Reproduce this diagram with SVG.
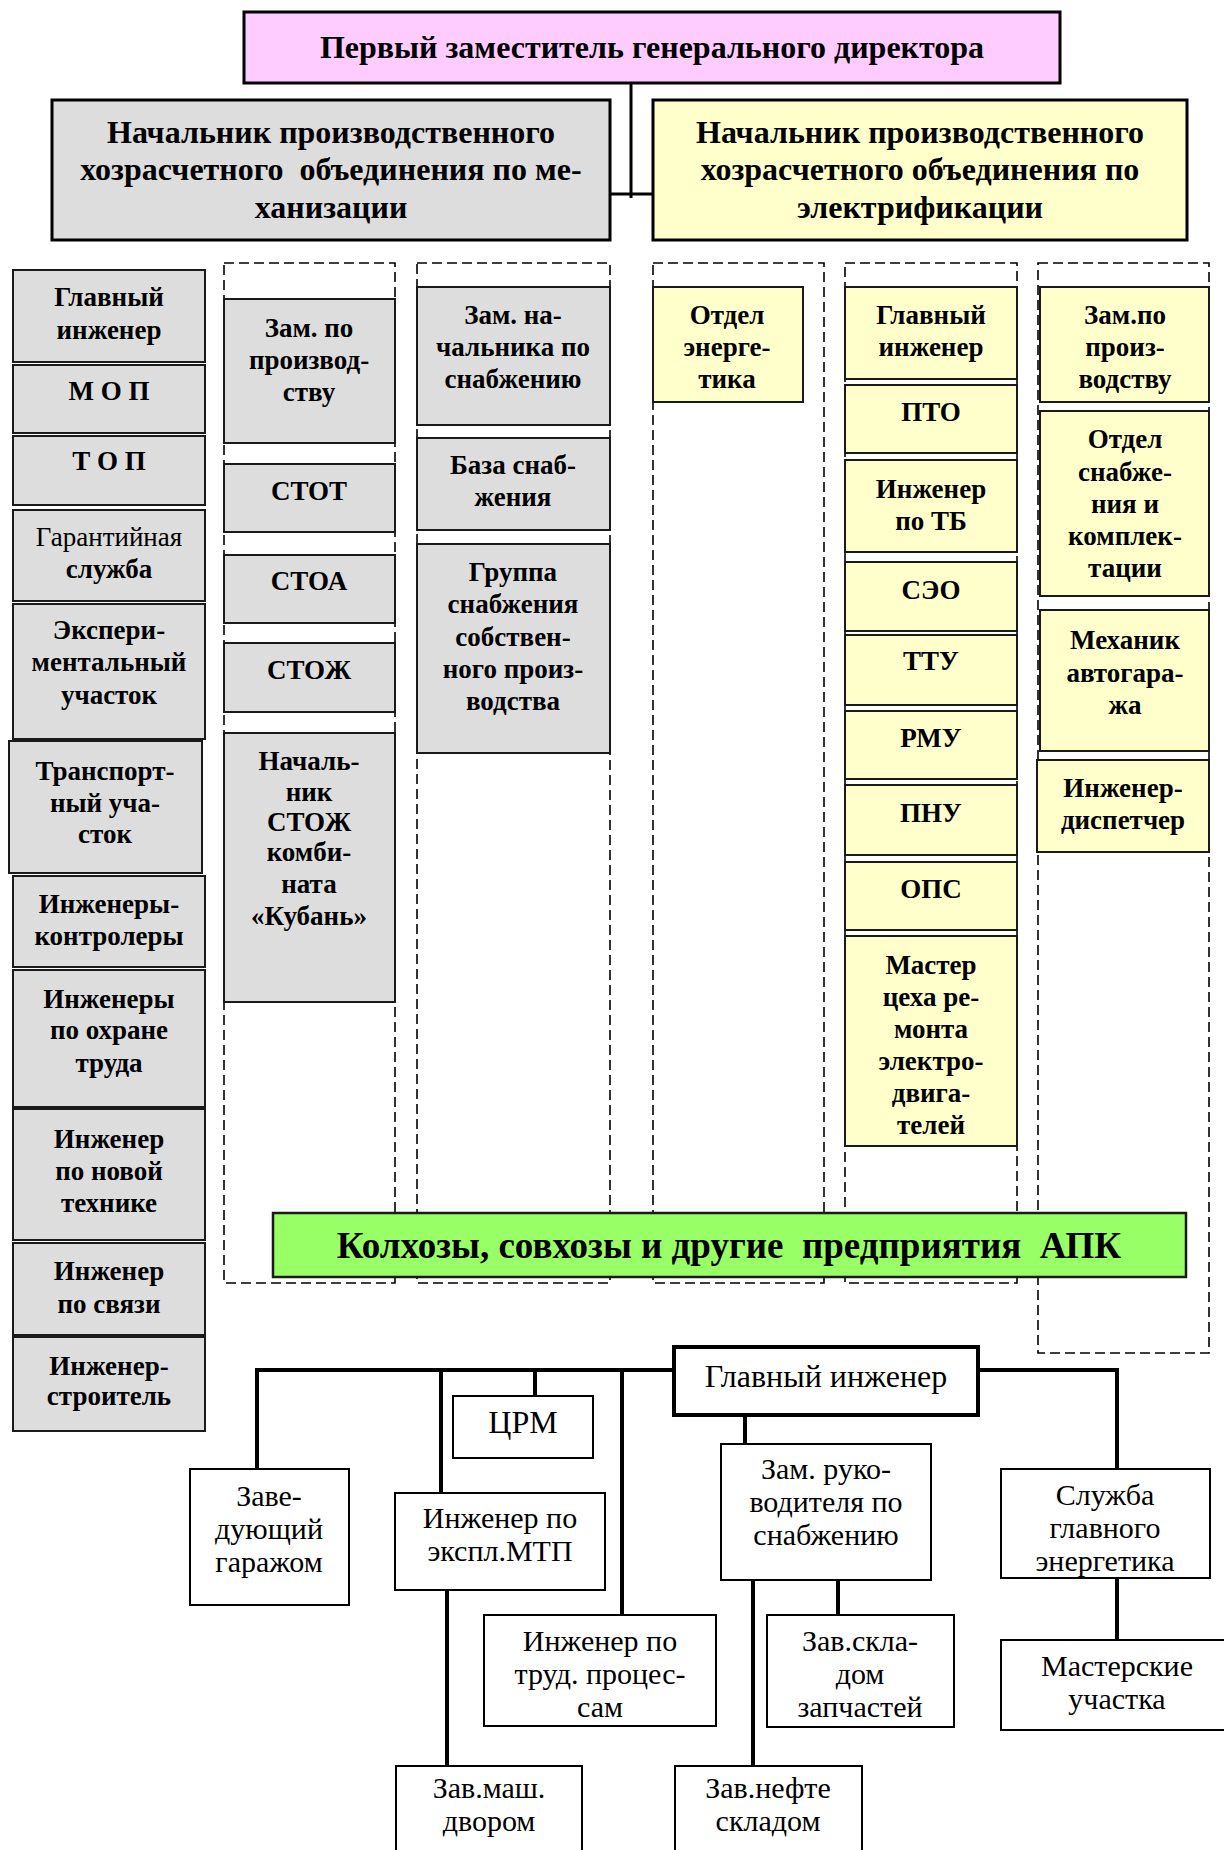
<svg xmlns="http://www.w3.org/2000/svg" width="1224" height="1850" viewBox="0 0 1224 1850">
  <style>
    .bg { fill: #ffffff; }
    .head { stroke: #000; stroke-width: 3; }
    .pink { fill: #ffccff; }
    .gray { fill: #dddddd; stroke: #1a1a1a; stroke-width: 2; }
    .yel { fill: #ffffcc; stroke: #1a1a1a; stroke-width: 2; }
    .green { fill: #99ff66; stroke: #1a1a1a; stroke-width: 2.5; }
    .wbox { fill: #ffffff; stroke: #000; stroke-width: 2; }
    .wbold { fill: #ffffff; stroke: #000; stroke-width: 4; }
    .dash { fill: none; stroke: #000; stroke-width: 1.6; stroke-dasharray: 10 5; }
    .line { fill: none; stroke: #000; stroke-width: 4; }
    .line3 { fill: none; stroke: #000; stroke-width: 3; }
    text { font-family: "Liberation Serif", "Times New Roman", serif; text-anchor: middle; fill: #000; white-space: pre; }
    .b { font-weight: bold; font-size: 27px; }
    .h { font-weight: bold; font-size: 32px; }
    .big { font-weight: bold; font-size: 37px; }
    .r { font-weight: normal; font-size: 30px; }
    .rs { font-weight: normal; font-size: 27px; }
  </style>

  <rect class="bg" x="0" y="0" width="1224" height="1850"/>

  <!-- dashed containers of the sub-divisions -->
  <g id="containers">
    <rect class="dash" x="224" y="263" width="171" height="1020"/>
    <rect class="dash" x="417" y="263" width="193" height="1020"/>
    <rect class="dash" x="653" y="263" width="171" height="1020"/>
    <rect class="dash" x="845" y="263" width="172" height="1020"/>
    <rect class="dash" x="1038" y="263" width="171" height="1090"/>
  </g>

  <!-- connectors -->
  <g id="connectors">
    <polyline class="line3" points="631,83 631,198"/>
    <polyline class="line3" points="610,194 653,194"/>
    <polyline class="line" points="257,1469 257,1370 674,1370"/>
    <polyline class="line" points="441,1370 441,1493"/>
    <polyline class="line" points="535,1370 535,1396"/>
    <polyline class="line" points="622,1370 622,1615"/>
    <polyline class="line" points="978,1370 1117,1370 1117,1469"/>
    <polyline class="line" points="745,1415 745,1444"/>
    <polyline class="line" points="753,1580 753,1766"/>
    <polyline class="line" points="838,1580 838,1615"/>
    <polyline class="line" points="1117,1578 1117,1640"/>
    <polyline class="line" points="447,1590 447,1766"/>
  </g>

  <!-- top level -->
  <g id="first-deputy">
    <rect class="pink head" x="244" y="12" width="816" height="71"/>
    <text class="h" x="652" y="58">Первый заместитель генерального директора</text>
  </g>
  <g id="head-mechanization">
    <rect class="head" fill="#dddddd" x="52" y="100" width="558" height="140"/>
    <text class="h" x="331" y="143">Начальник производственного</text>
    <text class="h" x="331" y="180" xml:space="preserve">хозрасчетного  объединения по ме-</text>
    <text class="h" x="331" y="218">ханизации</text>
  </g>
  <g id="head-electrification">
    <rect class="head" fill="#ffffcc" x="653" y="100" width="534" height="140"/>
    <text class="h" x="920" y="143">Начальник производственного</text>
    <text class="h" x="920" y="180">хозрасчетного объединения по</text>
    <text class="h" x="920" y="218">электрификации</text>
  </g>

  <!-- left column: services of the mechanization association -->
  <g id="m-chief-engineer">
    <rect class="gray" x="13" y="270" width="192" height="92"/>
    <text class="b" x="109" y="306">Главный</text>
    <text class="b" x="109" y="339">инженер</text>
  </g>
  <g id="m-mop">
    <rect class="gray" x="13" y="365" width="192" height="68"/>
    <text class="b" x="109" y="400">М О П</text>
  </g>
  <g id="m-top">
    <rect class="gray" x="13" y="436" width="192" height="69"/>
    <text class="b" x="109" y="470">Т О П</text>
  </g>
  <g id="m-warranty">
    <rect class="gray" x="13" y="510" width="192" height="91"/>
    <text class="rs" x="109" y="546">Гарантийная</text>
    <text class="b" x="109" y="578">служба</text>
  </g>
  <g id="m-experimental">
    <rect class="gray" x="13" y="604" width="192" height="135"/>
    <text class="b" x="109" y="639">Экспери-</text>
    <text class="b" x="109" y="671">ментальный</text>
    <text class="b" x="109" y="704">участок</text>
  </g>
  <g id="m-transport">
    <rect class="gray" x="9" y="741" width="193" height="132"/>
    <text class="b" x="105" y="780">Транспорт-</text>
    <text class="b" x="105" y="812">ный уча-</text>
    <text class="b" x="105" y="843">сток</text>
  </g>
  <g id="m-controllers">
    <rect class="gray" x="13" y="876" width="192" height="91"/>
    <text class="b" x="109" y="913">Инженеры-</text>
    <text class="b" x="109" y="945">контролеры</text>
  </g>
  <g id="m-safety">
    <rect class="gray" x="13" y="970" width="192" height="137"/>
    <text class="b" x="109" y="1008">Инженеры</text>
    <text class="b" x="109" y="1039">по охране</text>
    <text class="b" x="109" y="1072">труда</text>
  </g>
  <g id="m-new-tech">
    <rect class="gray" x="13" y="1109" width="192" height="131"/>
    <text class="b" x="109" y="1148">Инженер</text>
    <text class="b" x="109" y="1180">по новой</text>
    <text class="b" x="109" y="1212">технике</text>
  </g>
  <g id="m-comms">
    <rect class="gray" x="13" y="1243" width="192" height="92"/>
    <text class="b" x="109" y="1280">Инженер</text>
    <text class="b" x="109" y="1313">по связи</text>
  </g>
  <g id="m-builder">
    <rect class="gray" x="13" y="1337" width="192" height="94"/>
    <text class="b" x="109" y="1375">Инженер-</text>
    <text class="b" x="109" y="1405">строитель</text>
  </g>

  <!-- column B -->
  <g id="m-deputy-prod">
    <rect class="gray" x="224" y="299" width="171" height="144"/>
    <text class="b" x="309" y="337">Зам. по</text>
    <text class="b" x="309" y="369">производ-</text>
    <text class="b" x="309" y="401">ству</text>
  </g>
  <g id="m-stot">
    <rect class="gray" x="224" y="464" width="171" height="68"/>
    <text class="b" x="309" y="500">СТОТ</text>
  </g>
  <g id="m-stoa">
    <rect class="gray" x="224" y="555" width="171" height="68"/>
    <text class="b" x="309" y="590">СТОА</text>
  </g>
  <g id="m-stozh">
    <rect class="gray" x="224" y="643" width="171" height="69"/>
    <text class="b" x="309" y="679">СТОЖ</text>
  </g>
  <g id="m-kuban">
    <rect class="gray" x="224" y="733" width="171" height="269"/>
    <text class="b" x="309" y="770">Началь-</text>
    <text class="b" x="309" y="801">ник</text>
    <text class="b" x="309" y="831">СТОЖ</text>
    <text class="b" x="309" y="861">комби-</text>
    <text class="b" x="309" y="893">ната</text>
    <text class="b" x="309" y="925">«Кубань»</text>
  </g>

  <!-- column C -->
  <g id="m-deputy-supply">
    <rect class="gray" x="417" y="287" width="193" height="138"/>
    <text class="b" x="513" y="324">Зам. на-</text>
    <text class="b" x="513" y="356">чальника по</text>
    <text class="b" x="513" y="388">снабжению</text>
  </g>
  <g id="m-supply-base">
    <rect class="gray" x="417" y="438" width="193" height="92"/>
    <text class="b" x="513" y="474">База снаб-</text>
    <text class="b" x="513" y="506">жения</text>
  </g>
  <g id="m-own-supply">
    <rect class="gray" x="417" y="544" width="193" height="209"/>
    <text class="b" x="513" y="581">Группа</text>
    <text class="b" x="513" y="613">снабжения</text>
    <text class="b" x="513" y="646">собствен-</text>
    <text class="b" x="513" y="678">ного произ-</text>
    <text class="b" x="513" y="710">водства</text>
  </g>

  <!-- column D -->
  <g id="e-energy-dept">
    <rect class="yel" x="653" y="287" width="150" height="115"/>
    <text class="b" x="727" y="324">Отдел</text>
    <text class="b" x="727" y="356">энерге-</text>
    <text class="b" x="727" y="388">тика</text>
  </g>

  <!-- column E -->
  <g id="e-chief-engineer">
    <rect class="yel" x="845" y="287" width="172" height="92"/>
    <text class="b" x="931" y="324">Главный</text>
    <text class="b" x="931" y="356">инженер</text>
  </g>
  <g id="e-pto">
    <rect class="yel" x="845" y="385" width="172" height="68"/>
    <text class="b" x="931" y="421">ПТО</text>
  </g>
  <g id="e-safety">
    <rect class="yel" x="845" y="460" width="172" height="92"/>
    <text class="b" x="931" y="498">Инженер</text>
    <text class="b" x="931" y="530">по ТБ</text>
  </g>
  <g id="e-seo">
    <rect class="yel" x="845" y="562" width="172" height="69"/>
    <text class="b" x="931" y="599">СЭО</text>
  </g>
  <g id="e-ttu">
    <rect class="yel" x="845" y="635" width="172" height="70"/>
    <text class="b" x="931" y="670">ТТУ</text>
  </g>
  <g id="e-rmu">
    <rect class="yel" x="845" y="711" width="172" height="68"/>
    <text class="b" x="931" y="747">РМУ</text>
  </g>
  <g id="e-pnu">
    <rect class="yel" x="845" y="785" width="172" height="70"/>
    <text class="b" x="931" y="822">ПНУ</text>
  </g>
  <g id="e-ops">
    <rect class="yel" x="845" y="862" width="172" height="68"/>
    <text class="b" x="931" y="898">ОПС</text>
  </g>
  <g id="e-motor-repair">
    <rect class="yel" x="845" y="936" width="172" height="210"/>
    <text class="b" x="931" y="974">Мастер</text>
    <text class="b" x="931" y="1006">цеха ре-</text>
    <text class="b" x="931" y="1038">монта</text>
    <text class="b" x="931" y="1070">электро-</text>
    <text class="b" x="931" y="1102">двига-</text>
    <text class="b" x="931" y="1134">телей</text>
  </g>

  <!-- column F -->
  <g id="e-deputy-prod">
    <rect class="yel" x="1040" y="287" width="169" height="115"/>
    <text class="b" x="1125" y="324">Зам.по</text>
    <text class="b" x="1125" y="356">произ-</text>
    <text class="b" x="1125" y="388">водству</text>
  </g>
  <g id="e-supply">
    <rect class="yel" x="1040" y="411" width="169" height="185"/>
    <text class="b" x="1125" y="448">Отдел</text>
    <text class="b" x="1125" y="481">снабже-</text>
    <text class="b" x="1125" y="513">ния и</text>
    <text class="b" x="1125" y="545">комплек-</text>
    <text class="b" x="1125" y="577">тации</text>
  </g>
  <g id="e-garage-mechanic">
    <rect class="yel" x="1040" y="610" width="169" height="141"/>
    <text class="b" x="1125" y="649">Механик</text>
    <text class="b" x="1125" y="682">автогара-</text>
    <text class="b" x="1125" y="714">жа</text>
  </g>
  <g id="e-dispatcher">
    <rect class="yel" x="1037" y="760" width="172" height="92"/>
    <text class="b" x="1123" y="797">Инженер-</text>
    <text class="b" x="1123" y="829">диспетчер</text>
  </g>

  <!-- enterprises served -->
  <g id="enterprises">
    <rect class="green" x="273" y="1213" width="913" height="64"/>
    <text class="big" x="729" y="1258" xml:space="preserve">Колхозы, совхозы и другие  предприятия  АПК</text>
  </g>

  <!-- farm engineering service -->
  <g id="f-chief-engineer">
    <rect class="wbold" x="674" y="1347" width="304" height="68"/>
    <text class="r" x="826" y="1387" style="font-size:32px">Главный инженер</text>
  </g>
  <g id="f-crm">
    <rect class="wbox" x="453" y="1396" width="140" height="62"/>
    <text class="r" x="523" y="1433" style="font-size:32px">ЦРМ</text>
  </g>
  <g id="f-garage">
    <rect class="wbox" x="190" y="1469" width="159" height="136"/>
    <text class="r" x="269" y="1506">Заве-</text>
    <text class="r" x="269" y="1539">дующий</text>
    <text class="r" x="269" y="1572">гаражом</text>
  </g>
  <g id="f-mtp">
    <rect class="wbox" x="395" y="1493" width="210" height="97"/>
    <text class="r" x="500" y="1528">Инженер по</text>
    <text class="r" x="500" y="1561">экспл.МТП</text>
  </g>
  <g id="f-labour">
    <rect class="wbox" x="484" y="1615" width="232" height="111"/>
    <text class="r" x="600" y="1651">Инженер по</text>
    <text class="r" x="600" y="1684">труд. процес-</text>
    <text class="r" x="600" y="1717">сам</text>
  </g>
  <g id="f-machine-yard">
    <rect class="wbox" x="396" y="1766" width="186" height="100"/>
    <text class="r" x="489" y="1798">Зав.маш.</text>
    <text class="r" x="489" y="1831">двором</text>
  </g>
  <g id="f-deputy-supply">
    <rect class="wbox" x="721" y="1444" width="210" height="136"/>
    <text class="r" x="826" y="1479">Зам. руко-</text>
    <text class="r" x="826" y="1512">водителя по</text>
    <text class="r" x="826" y="1545">снабжению</text>
  </g>
  <g id="f-parts-store">
    <rect class="wbox" x="767" y="1615" width="187" height="112"/>
    <text class="r" x="860" y="1651">Зав.скла-</text>
    <text class="r" x="860" y="1684">дом</text>
    <text class="r" x="860" y="1717">запчастей</text>
  </g>
  <g id="f-oil-store">
    <rect class="wbox" x="675" y="1766" width="187" height="100"/>
    <text class="r" x="768" y="1798">Зав.нефте</text>
    <text class="r" x="768" y="1831">складом</text>
  </g>
  <g id="f-power">
    <rect class="wbox" x="1001" y="1469" width="209" height="109"/>
    <text class="r" x="1105" y="1505">Служба</text>
    <text class="r" x="1105" y="1538">главного</text>
    <text class="r" x="1105" y="1571">энергетика</text>
  </g>
  <g id="f-workshops">
    <rect class="wbox" x="1001" y="1640" width="240" height="90"/>
    <text class="r" x="1117" y="1676">Мастерские</text>
    <text class="r" x="1117" y="1709">участка</text>
  </g>
</svg>
